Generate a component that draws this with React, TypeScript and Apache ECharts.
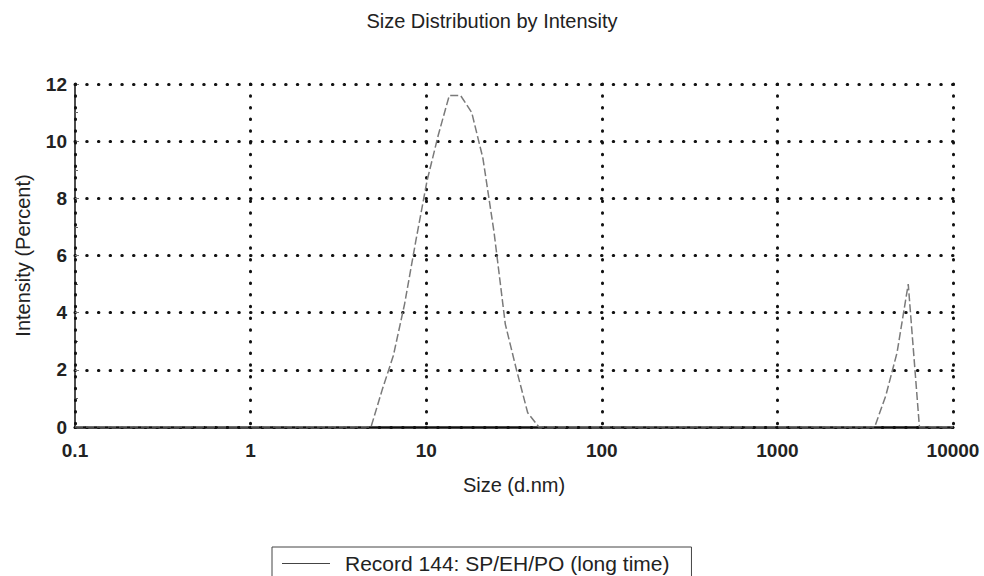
import React, { useEffect, useRef } from "react";
import * as echarts from "echarts";

const titleText = "Size Distribution by Intensity";
const seriesName = "Record 144: SP/EH/PO (long time)";
const xAxisName = "Size (d.nm)";
const yAxisName = "Intensity (Percent)";

const sizes = [0.1, 4.85, 5.615, 6.503, 7.531, 8.721, 10.1, 11.7, 13.54, 15.69, 18.17, 21.04, 24.36, 28.21, 32.67, 37.84, 43.82, 3580, 4145, 4801, 5560, 6439, 10000];
const intensity = [0, 0, 1.3, 2.5, 4.3, 6.5, 8.6, 10.2, 11.6, 11.6, 11.0, 9.4, 6.8, 3.6, 2.0, 0.5, 0, 0, 1.1, 2.6, 5.0, 0, 0];

const dotted = { color: "#111", width: 3, type: [0.5, 11.2], cap: "round" };

export default function App() {
  const ref = useRef<HTMLDivElement>(null);
  useEffect(() => {
    if (!ref.current) return;
    const chart = echarts.init(ref.current, null, { renderer: "svg" });
    chart.setOption({
      animation: false,
      backgroundColor: "#fff",
      title: {
        text: titleText,
        left: "center",
        top: 11,
        padding: 0,
        textStyle: { fontFamily: "Liberation Sans", fontSize: 20, fontWeight: "normal", color: "#222" },
      },
      grid: { left: 75, right: 31, top: 84, bottom: 149 },
      legend: {
        data: [seriesName],
        left: 272,
        top: 547,
        padding: [6, 22, 8, 10],
        borderColor: "#444",
        borderWidth: 1,
        icon: "rect",
        itemWidth: 48,
        itemHeight: 1.2,
        itemStyle: { color: "#444" },
        textStyle: { fontFamily: "Liberation Sans", fontSize: 21, color: "#222", padding: [0, 0, 0, 10] },
      },
      xAxis: {
        type: "log",
        logBase: 10,
        min: 0.1,
        max: 10000,
        z: 3,
        name: xAxisName,
        nameLocation: "middle",
        nameGap: 48,
        nameTextStyle: { fontFamily: "Liberation Sans", fontSize: 20, color: "#222" },
        axisLine: { show: true, lineStyle: { color: "#111", width: 2.5 } },
        axisTick: { show: false },
        axisLabel: {
          margin: 14,
          fontFamily: "Liberation Sans",
          fontSize: 19,
          fontWeight: "bold",
          color: "#222",
          formatter: (v: number) => (v < 1 ? v.toFixed(1) : String(Math.round(v))),
        },
        splitLine: { show: true, lineStyle: dotted },
      },
      yAxis: {
        type: "value",
        min: 0,
        max: 12,
        interval: 2,
        name: yAxisName,
        nameLocation: "middle",
        nameGap: 42,
        nameTextStyle: { fontFamily: "Liberation Sans", fontSize: 20, color: "#222" },
        axisLine: { show: true, lineStyle: { color: "#111", width: 1.5 } },
        axisTick: { show: true, inside: true, length: 4, lineStyle: { color: "#777" } },
        minorTick: { show: true, splitNumber: 2, length: 3, lineStyle: { color: "#666" } },
        axisLabel: {
          margin: 8,
          fontFamily: "Liberation Sans",
          fontSize: 19,
          fontWeight: "bold",
          color: "#222",
        },
        splitLine: { show: true, lineStyle: dotted },
      },
      series: [
        {
          name: seriesName,
          type: "line",
          symbol: "none",
          data: sizes.map((s, i) => [s, intensity[i]]),
          lineStyle: { color: "#7a7a7a", width: 1.5, type: [8, 3] },
          itemStyle: { color: "#444" },
        },
      ],
    });
    return () => chart.dispose();
  }, []);
  return <div ref={ref} style={{ width: 984, height: 576, position: "absolute", left: 0, top: 0 }} />;
}
